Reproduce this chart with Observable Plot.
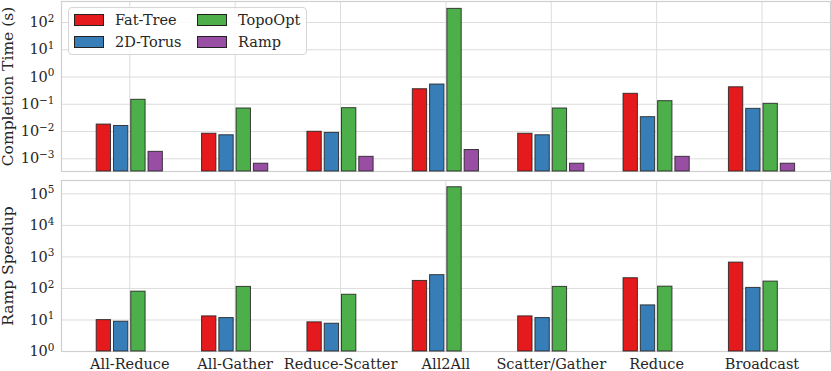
<!DOCTYPE html>
<html>
<head>
<meta charset="utf-8">
<script src="https://cdn.jsdelivr.net/npm/d3@7"></script>
<script src="https://cdn.jsdelivr.net/npm/@observablehq/plot@0.6"></script>
<style>
  html, body { margin: 0; padding: 0; background: #fff; }
  #chart { position: relative; width: 831px; height: 371px; font-family: "DejaVu Serif", serif; }
  #chart svg { display: block; }
  .legend { position: absolute; left: 68px; top: 7px; width: 237px; height: 46px;
            border: 1px solid #d6d6d6; border-radius: 4px; background: rgba(255,255,255,0.85); }
  .legend .sw { position: absolute; width: 28px; height: 10px; border: 1px solid #222; }
  .legend .lb { position: absolute; font-size: 14.5px; line-height: 16px; color: #262626; white-space: nowrap; }
</style>
</head>
<body>
<div id="chart"></div>
<script>
// ---- data ----
const categories = ["All-Reduce", "All-Gather", "Reduce-Scatter", "All2All", "Scatter/Gather", "Reduce", "Broadcast"];
const series = ["Fat-Tree", "2D-Torus", "TopoOpt", "Ramp"];
const colors = ["#e41a1c", "#377eb8", "#4daf4a", "#984ea3"];

// Completion time (s)
const timeFatTree = [0.018, 0.0083, 0.0098, 0.357, 0.0083, 0.242, 0.42];
const time2DTorus = [0.016, 0.0073, 0.0089, 0.53, 0.0073, 0.0336, 0.068];
const timeTopoOpt = [0.146, 0.070, 0.072, 316, 0.070, 0.130, 0.104];
const timeRamp    = [0.0018, 0.00066, 0.00118, 0.0021, 0.00066, 0.00118, 0.00066];

// Ramp speedup
const speedupFatTree = [9.9, 13, 8.4, 173, 13, 211, 660];
const speedup2DTorus = [8.8, 11.5, 7.6, 264, 11.5, 29, 104];
const speedupTopoOpt = [79, 112, 63, 162000, 112, 114, 165];

const topTicks = [1e-3, 1e-2, 1e-1, 1e0, 1e1, 1e2];
const bottomTicks = [1e0, 1e1, 1e2, 1e3, 1e4, 1e5];

// ---- build tables ----
const timeSeries = [timeFatTree, time2DTorus, timeTopoOpt, timeRamp];
const speedSeries = [speedupFatTree, speedup2DTorus, speedupTopoOpt];
function rows(arrs) {
  const out = [];
  arrs.forEach((vals, j) => vals.forEach((v, i) => out.push({cat: categories[i], i, j, s: series[j], v})));
  return out;
}
const timeRows = rows(timeSeries);
const speedRows = rows(speedSeries);

const step = 0.164, bw = 0.136;
const bx1 = d => d.i + (d.j - 1.5) * step - bw / 2;
const bx2 = d => d.i + (d.j - 1.5) * step + bw / 2;

const fmtPow = d => "10^" + Math.round(Math.log10(d));

const xDomain = [-0.648, 6.65];
const catIdx = categories.map((_, i) => i);
const gridColor = "#dcdcdc";
const frameColor = "#cfcfcf";
const fontStyle = {fontFamily: "DejaVu Serif", fontSize: "14.5px", background: "white", color: "#262626", overflow: "visible"};

function panel({rowsData, yDomain, ticks, label, height, marginTop, marginBottom, showX}) {
  const svg = Plot.plot({
    width: 831, height, marginLeft: 61, marginRight: 1, marginTop, marginBottom,
    style: fontStyle,
    x: {type: "linear", domain: xDomain, axis: null},
    y: {type: "log", domain: yDomain, axis: null},
    color: {domain: series, range: colors},
    marks: [
      Plot.gridX(catIdx, {stroke: gridColor, strokeOpacity: 1, strokeWidth: 1}),
      Plot.gridY(ticks, {stroke: gridColor, strokeOpacity: 1, strokeWidth: 1}),
      Plot.frame({stroke: frameColor, strokeWidth: 1.2}),
      Plot.rectY(rowsData, {x1: bx1, x2: bx2, y1: yDomain[0], y2: "v", fill: "s",
        stroke: "#222", strokeWidth: 1, strokeOpacity: 0.85}),
      Plot.axisY(ticks, {tickFormat: fmtPow, tickSize: 0, tickPadding: 7, fontSize: 14.5, label: null}),
      showX ? Plot.axisX(catIdx, {tickFormat: i => categories[i], tickSize: 0, tickPadding: 7, fontSize: 14.5, label: null}) : null,
      Plot.text([label], {frameAnchor: "left", rotate: -90, dx: -53, text: d => d, fontSize: 15.5, textAnchor: "middle", lineAnchor: "middle"})
    ]
  });
  // render powers of ten with real superscripts
  d3.select(svg).selectAll("text").each(function () {
    const t = this.textContent;
    if (t.startsWith("10^")) {
      const e = t.slice(3).replace("-", "\u2212");
      const sel = d3.select(this);
      sel.text("10");
      sel.append("tspan").attr("dy", "-0.5em").attr("font-size", "0.72em").text(e);
    }
  });
  return svg;
}

const chartEl = document.getElementById("chart");
const topPanel = panel({
  rowsData: timeRows, yDomain: [Math.pow(10, -3.466), Math.pow(10, 2.77)], ticks: topTicks,
  label: "Completion Time (s)", height: 175, marginTop: 1, marginBottom: 4, showX: false
});
const bottomPanel = panel({
  rowsData: speedRows, yDomain: [1, Math.pow(10, 5.424)], ticks: bottomTicks,
  label: "Ramp Speedup", height: 196, marginTop: 5, marginBottom: 20, showX: true
});
chartEl.appendChild(topPanel);
chartEl.appendChild(bottomPanel);

// legend
const legend = document.createElement("div");
legend.className = "legend";
series.forEach((name, k) => {
  const col = Math.floor(k / 2), row = k % 2;
  const sw = document.createElement("div");
  sw.className = "sw";
  sw.style.left = (5 + col * 123) + "px";
  sw.style.top = (6 + row * 22) + "px";
  sw.style.background = colors[k];
  const lb = document.createElement("div");
  lb.className = "lb";
  lb.style.left = (46 + col * 123) + "px";
  lb.style.top = (4 + row * 22) + "px";
  lb.textContent = name;
  legend.appendChild(sw);
  legend.appendChild(lb);
});
chartEl.appendChild(legend);
</script>
</body>
</html>
